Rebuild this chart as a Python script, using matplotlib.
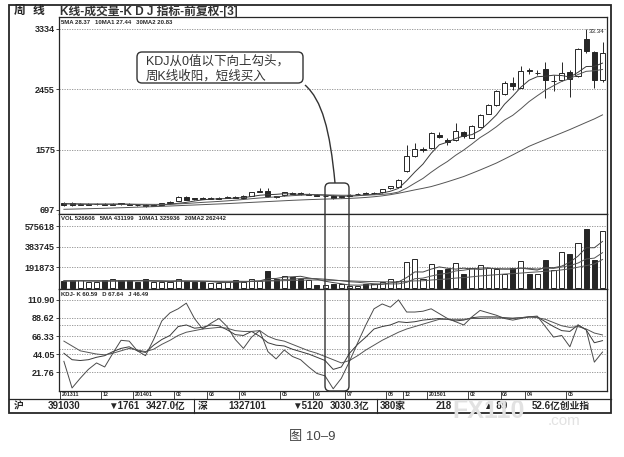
import matplotlib
matplotlib.use("Agg")
import matplotlib.pyplot as plt
import numpy as np
from matplotlib.patches import FancyBboxPatch, PathPatch, Rectangle
from matplotlib.path import Path
from matplotlib.lines import Line2D

plt.rcParams['font.family'] = ['Liberation Sans', 'Noto Sans CJK SC', 'DejaVu Sans']

# weekly candles (price in 0.01 yuan, as on the axis)
opens = [800, 795, 772, 776, 780, 790, 772, 792, 785, 776, 770, 756, 776, 792, 830, 885, 866, 870, 858, 862,
         870, 890, 878, 900, 962, 975, 895, 912, 945, 940, 922, 915, 895, 905, 885, 905, 925, 945, 938, 952,
         1015, 1038, 1258, 1478, 1570, 1600, 1796, 1712, 1712, 1835, 1747, 1908, 2099, 2220, 2382, 2543, 2479,
         2730, 2690, 2748, 2572, 2592, 2714, 2650, 3188, 2993, 2587]
closes = [775, 772, 788, 786, 790, 776, 790, 780, 775, 766, 756, 775, 792, 815, 885, 848, 856, 860, 868, 874,
          882, 878, 895, 952, 968, 895, 885, 955, 932, 928, 930, 905, 905, 868, 895, 918, 935, 935, 948, 1000,
          1040, 1137, 1488, 1586, 1580, 1820, 1762, 1683, 1844, 1771, 1917, 2074, 2220, 2430, 2553, 2504, 2723,
          2723, 2694, 2587, 2577, 2700, 2612, 3041, 3007, 2592, 2982]
highs = [820, 818, 798, 795, 800, 800, 805, 800, 792, 785, 780, 786, 802, 828, 895, 898, 876, 882, 880, 890,
         898, 905, 910, 962, 1020, 1020, 905, 965, 958, 952, 940, 925, 915, 912, 905, 930, 945, 955, 960, 1010,
         1050, 1150, 1650, 1670, 1610, 1840, 1830, 1740, 1960, 1850, 1935, 2090, 2235, 2445, 2575, 2640, 2790,
         2770, 2740, 2855, 2660, 2846, 2730, 3060, 3334, 3010, 3139]
lows = [760, 760, 765, 768, 772, 768, 766, 772, 766, 756, 745, 750, 770, 786, 825, 842, 846, 852, 850, 855,
        865, 870, 872, 895, 955, 890, 875, 905, 925, 920, 915, 898, 888, 860, 878, 900, 920, 928, 932, 948,
        1008, 1030, 1250, 1470, 1545, 1590, 1740, 1640, 1700, 1740, 1740, 1900, 2090, 2215, 2370, 2440, 2470,
        2680, 2660, 2333, 2430, 2580, 2348, 2640, 2990, 2480, 2560]
ma5 = [790, 788, 785, 782, 782, 782, 782, 782, 780, 777, 770, 768, 772, 780, 795, 808, 828, 845, 855, 860,
       864, 870, 878, 893, 912, 920, 925, 935, 930, 925, 925, 918, 912, 905, 900, 898, 905, 915, 925, 945,
       970, 1012, 1123, 1250, 1366, 1522, 1647, 1686, 1738, 1776, 1795, 1858, 1965, 2082, 2239, 2356, 2486,
       2587, 2639, 2646, 2661, 2656, 2634, 2703, 2787, 2790, 2837]
ma10 = [785, 785, 784, 783, 783, 782, 782, 782, 782, 781, 780, 779, 779, 780, 786, 792, 800, 808, 815, 822,
        830, 840, 850, 862, 872, 880, 888, 898, 906, 912, 918, 920, 918, 915, 912, 912, 910, 915, 918, 925,
        935, 958, 1016, 1088, 1157, 1247, 1330, 1404, 1494, 1571, 1659, 1752, 1826, 1910, 2007, 2076, 2172,
        2276, 2361, 2442, 2508, 2571, 2610, 2671, 2717, 2726, 2744]
ma30 = [707, 710, 713, 716, 719, 722, 726, 730, 734, 738, 742, 746, 750, 755, 760, 765, 770, 775, 780, 785,
        790, 796, 802, 808, 814, 820, 826, 832, 838, 843, 848, 852, 856, 859, 862, 866, 872, 880, 890, 903,
        920, 941, 965, 990, 1013, 1038, 1072, 1108, 1146, 1185, 1232, 1280, 1330, 1381, 1440, 1500, 1562,
        1625, 1675, 1724, 1772, 1820, 1869, 1921, 1973, 2024, 2083]

volume = [59000, 72000, 66000, 50000, 50000, 66000, 75000, 66000, 66000, 50000, 75000, 50000, 50000, 50000,
          81000, 59000, 50000, 50000, 40000, 40000, 50000, 72000, 50000, 81000, 59000, 152000, 81000, 112000,
          96000, 84000, 70000, 22000, 21000, 31000, 31000, 12000, 15000, 31000, 37000, 53000, 80000, 60000,
          234000, 265000, 84000, 218000, 162000, 169000, 229000, 125000, 178000, 211000, 178000, 169000,
          131000, 178000, 249000, 131000, 125000, 256000, 162000, 328000, 312000, 412000, 546000, 262000, 526606]
vma5 = [60000, 62000, 63000, 62000, 60000, 61000, 61000, 63000, 65000, 65000, 67000, 61000, 58000, 55000,
        61000, 58000, 58000, 58000, 56000, 48000, 46000, 50000, 50000, 59000, 62000, 83000, 85000, 97000,
        100000, 105000, 89000, 77000, 59000, 46000, 35000, 23000, 22000, 24000, 25000, 30000, 43000, 52000,
        93000, 146000, 145000, 172000, 193000, 180000, 172000, 181000, 173000, 182000, 184000, 172000,
        173000, 173000, 181000, 172000, 163000, 188000, 185000, 200000, 237000, 294000, 372000, 372000, 431199]
vma10 = [62000, 62000, 63000, 63000, 62000, 62000, 62000, 62000, 63000, 63000, 64000, 62000, 60000, 59000,
         61000, 60000, 59000, 58000, 57000, 54000, 53000, 55000, 54000, 57000, 58000, 66000, 67000, 75000,
         78000, 84000, 85000, 83000, 78000, 71000, 63000, 54000, 49000, 42000, 35000, 33000, 33000, 34000,
         48000, 82000, 88000, 107000, 123000, 133000, 155000, 162000, 175000, 168000, 178000, 178000,
         173000, 174000, 183000, 178000, 173000, 181000, 179000, 191000, 205000, 229000, 267000, 275000, 325936]
vma20 = [63000, 63000, 63000, 63000, 63000, 62000, 62000, 62000, 62000, 62000, 62000, 62000, 62000, 61000,
         61000, 61000, 61000, 60000, 60000, 59000, 59000, 59000, 58000, 58000, 59000, 61000, 62000, 64000,
         66000, 68000, 70000, 70000, 69000, 67000, 65000, 62000, 59000, 57000, 55000, 53000, 53000, 52000,
         58000, 62000, 63000, 70000, 75000, 80000, 88000, 93000, 100000, 108000, 114000, 120000, 126000,
         130000, 135000, 141000, 146000, 152000, 156000, 165000, 175000, 190000, 205000, 220000, 262442]

k_line = [45, 37, 36, 37, 40, 42, 47, 51, 53, 48, 46, 55, 62, 67, 78, 80, 76, 77, 80, 79,
          74, 68, 67, 72, 66, 58, 55, 54, 50, 47, 44, 40, 36, 25, 28, 45, 56, 65, 75, 78,
          80, 84, 83, 84, 86, 87, 88, 87, 85, 86, 89, 90, 90, 90, 89, 88, 89, 90, 90, 84,
          78, 73, 72, 80, 74, 58, 60.59]
d_line = [60, 54, 48, 46, 44, 43, 45, 48, 51, 49, 47, 50, 56, 61, 67, 71, 73, 75, 76, 77,
          76, 73, 72, 72, 73, 66, 62, 60, 56, 52, 48, 45, 41, 37, 33, 36, 42, 49, 55, 61,
          66, 71, 75, 78, 81, 84, 87, 87, 87, 87, 88, 88, 88.5, 88.5, 88.5, 88.5, 89, 90, 89, 87,
          83, 79, 77, 78, 75, 70, 67.64]
j_line = [35, 2, 14, 25, 33, 28, 45, 61, 60, 48, 42, 62, 85, 95, 100, 107, 88, 75, 82, 88,
          78, 62, 51, 65, 73, 47, 38, 49, 41, 37, 28, 20, 17, 1, 14, 35, 58, 80, 100, 106,
          102, 111, 96, 96, 97, 100, 94, 88, 84, 80, 90, 98, 95, 92, 88, 86, 88, 90, 91, 78,
          65, 67, 53, 80, 74, 34, 46.49]

price_ticks = [697, 1575, 2455, 3334]
vol_ticks = [191873, 383745, 575618]
kdj_ticks = [21.76, 44.05, 66.33, 88.62, 110.90]
kdj_refs = [50, 80]
month_pos = [0, 5, 9, 14, 18, 22, 27, 31, 35, 40, 42, 45, 50, 54, 57, 62]
month_labels = ['201311', '12', '201401', '02', '03', '04', '05', '06', '07', '08', '12',
                '201501', '02', '03', '04', '05']

W, H = 624, 457
fig = plt.figure(figsize=(6.24, 4.57), dpi=100)
fig.patch.set_facecolor('white')


def rect(x0, y0, x1, y1):
    return [x0 / W, 1 - y1 / H, (x1 - x0) / W, (y1 - y0) / H]


def inch(x, y):
    return (x / 100.0, (H - y) / 100.0)


ink = '#262626'
grid = dict(color='#8a8a8a', lw=0.6, ls=(0, (1.5, 1.5)))

ax_p = fig.add_axes(rect(59, 17, 607, 214))
ax_v = fig.add_axes(rect(59, 214, 607, 289))
ax_k = fig.add_axes(rect(59, 289, 607, 391))

x = np.arange(len(closes))
o = np.array(opens)
c = np.array(closes)
up = c >= o
fills = np.where(up, 'white', ink)

for ax in (ax_p, ax_v, ax_k):
    ax.set_xlim(-0.6, 66.55)
    ax.set_xticks([])
    for s in ax.spines.values():
        s.set_color(ink)
        s.set_linewidth(0.9)
    ax.tick_params(axis='y', length=2, pad=1, width=0.6, colors=ink, labelsize=6.5)

# price panel
for t in price_ticks[1:]:
    ax_p.axhline(t, **grid, zorder=0)
ax_p.vlines(x, lows, highs, color=ink, lw=0.7, zorder=2)
ax_p.bar(x, np.maximum(np.abs(c - o), 7), 0.62, bottom=np.minimum(o, c), color=fills,
         edgecolor=ink, lw=0.7, zorder=3)
ax_p.plot(x, ma5, color='#3a3a3a', lw=0.7, zorder=4)
ax_p.plot(x, ma10, color='#555555', lw=0.7, zorder=4)
ax_p.plot(x, ma30, color='#555555', lw=0.7, zorder=4)
ax_p.set_ylim(638.7, 3508.7)
ax_p.set_yticks(price_ticks)
ax_p.set_yticklabels([str(t) for t in price_ticks], fontweight='bold')
ax_p.text(64.3, 3334, '33.34', fontsize=4.5, color=ink, va='top', ha='left')
ax_p.text(0.003, 0.985, '5MA 28.37   10MA1 27.44   30MA2 20.83', transform=ax_p.transAxes,
          fontsize=4.3, fontweight='bold', color=ink, va='top')

# volume panel
for t in vol_ticks:
    ax_v.axhline(t, **grid, zorder=0)
ax_v.bar(x, volume, 0.62, color=fills, edgecolor=ink, lw=0.7, zorder=3)
ax_v.plot(x, vma5, color='#444444', lw=0.7, zorder=4)
ax_v.plot(x, vma10, color='#555555', lw=0.7, zorder=4)
ax_v.plot(x, vma20, color='#555555', lw=0.7, zorder=4)
ax_v.set_ylim(-14039, 687934)
ax_v.set_yticks(vol_ticks)
ax_v.set_yticklabels([str(t) for t in vol_ticks], fontweight='bold')
ax_v.text(0.003, 0.97, 'VOL 526606   5MA 431199   10MA1 325936   20MA2 262442', transform=ax_v.transAxes,
          fontsize=4.3, fontweight='bold', color=ink, va='top')

# KDJ panel
for t in kdj_ticks + kdj_refs:
    ax_k.axhline(t, **grid, zorder=0)
ax_k.plot(x, k_line, color='#3a3a3a', lw=0.7)
ax_k.plot(x, d_line, color='#555555', lw=0.7)
ax_k.plot(x, j_line, color='#4a4a4a', lw=0.7)
ax_k.set_ylim(-1.73, 124.5)
ax_k.set_yticks(kdj_ticks)
ax_k.set_yticklabels(['%.2f' % t for t in kdj_ticks], fontweight='bold')
ax_k.text(0.003, 0.975, 'KDJ- K 60.59   D 67.64   J 46.49', transform=ax_k.transAxes,
          fontsize=4.3, fontweight='bold', color=ink, va='top')
xt = ax_k.get_xaxis_transform()
for p, lab in zip(month_pos, month_labels):
    ax_k.plot([p - 0.5, p - 0.5], [0, -0.075], transform=xt, color=ink, lw=0.6, clip_on=False)
    ax_k.text(p - 0.3, -0.012, lab, transform=xt, fontsize=3.8, fontweight='bold',
              color=ink, ha='left', va='top')

# frame, title row and status bar
fig.add_artist(Rectangle((9 / W, 1 - 413 / H), 602 / W, 408 / H, transform=fig.transFigure,
                         fill=False, ec=ink, lw=1.3))
fig.add_artist(Line2D([9 / W, 611 / W], [1 - 399 / H] * 2, transform=fig.transFigure, color=ink, lw=0.9))
for sx in (194, 377):
    fig.add_artist(Line2D([sx / W] * 2, [1 - 399 / H, 1 - 413 / H], transform=fig.transFigure,
                          color=ink, lw=0.8))
fig.text(14 / W, 1 - 11 / H, '周', fontsize=8.5, fontweight='bold', color=ink, va='center')
fig.text(33 / W, 1 - 11 / H, '线', fontsize=8.5, fontweight='bold', color=ink, va='center')
fig.text(60 / W, 1 - 11 / H, 'K线-成交量-K D J 指标-前复权-[3]', fontsize=8.5, fontweight='bold',
         color='#333333', va='center')

status = [(14, '沪'), (48, '391030'), (108, '▼1761'), (146, '3427.0亿'), (198, '深'),
          (228, '1327101'), (292, '▼5120'), (330, '3030.3亿'), (380, '380家'),
          (436, '218'), (484, '▲ 89'), (532, '52.6亿创业指')]
for sx, s in status:
    fig.text(sx / W, 1 - 406 / H, s, fontsize=7, fontweight='bold', color=ink, va='center')
fig.text(452 / W, 1 - 411 / H, 'FX110', fontsize=18, fontweight='bold', color='#e2e2e2',
         va='center', zorder=10)
fig.text(548 / W, 1 - 421 / H, '.com', fontsize=11, color='#e2e2e2', va='center', zorder=10)

# highlight around the hook and the callout
tr = fig.dpi_scale_trans
x0, y0 = inch(325, 391)
fig.add_artist(FancyBboxPatch((x0, y0), 0.24, (391 - 183) / 100.0, transform=tr,
                              boxstyle='round,pad=0,rounding_size=0.05', fill=False, ec='#333333', lw=1.0,
                              zorder=8))
bx, by = inch(137, 83)
fig.add_artist(FancyBboxPatch((bx, by), 1.66, 0.31, transform=tr,
                              boxstyle='round,pad=0,rounding_size=0.05', fc='white', ec='#333333', lw=1.0,
                              zorder=8))
curve = Path([inch(305, 85), inch(322, 100), inch(330, 130), inch(335, 183)],
             [Path.MOVETO, Path.CURVE4, Path.CURVE4, Path.CURVE4])
fig.add_artist(PathPatch(curve, transform=tr, fill=False, ec='#333333', lw=1.0, zorder=8))
fig.text(146 / W, 1 - 61 / H, 'KDJ从0值以下向上勾头，', fontsize=9, color='#333333', va='center', zorder=9)
fig.text(146 / W, 1 - 76 / H, '周K线收阳，短线买入', fontsize=9, color='#333333', va='center', zorder=9)

fig.text(312 / W, 1 - 437 / H, '图 10–9', fontsize=9.5, color='#444444', ha='center', va='center')

plt.savefig('out.png', dpi=100)
